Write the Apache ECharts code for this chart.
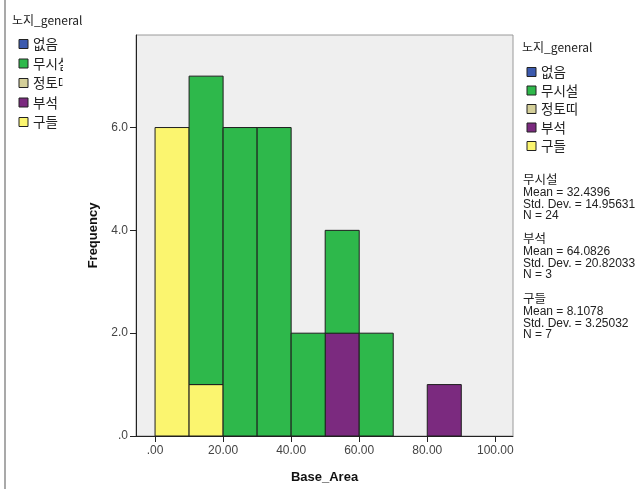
<!DOCTYPE html>
<html>
<head>
<meta charset="utf-8">
<script src="https://cdn.jsdelivr.net/npm/echarts@6/dist/echarts.min.js"></script>
<style>
  html, body { margin: 0; padding: 0; background: #ffffff; }
  #chart { width: 642px; height: 489px; }
</style>
</head>
<body>
<div id="chart"></div>
<script>
// Histogram of Base_Area, stacked by 노지_general (bin width 10)
const binStarts = [0, 10, 20, 30, 40, 50, 60, 70, 80, 90];
const binWidth = 10;

const groupNames = ['없음', '무시설', '정토띠', '부석', '구들'];
const groupColors = ['#3c5aae', '#2eb84b', '#d4cf99', '#7b2a7f', '#fbf56f'];

// counts per bin for each group
const countsNone    = [0, 0, 0, 0, 0, 0, 0, 0, 0, 0];
const countsMusiseol = [0, 6, 6, 6, 2, 2, 2, 0, 0, 0];
const countsJeongto = [0, 0, 0, 0, 0, 0, 0, 0, 0, 0];
const countsBuseok  = [0, 0, 0, 0, 0, 2, 0, 0, 1, 0];
const countsGudeul  = [6, 1, 0, 0, 0, 0, 0, 0, 0, 0];

// stacking order from the bottom up
const stackOrder = [
  { name: '구들', counts: countsGudeul },
  { name: '부석', counts: countsBuseok },
  { name: '정토띠', counts: countsJeongto },
  { name: '없음', counts: countsNone },
  { name: '무시설', counts: countsMusiseol }
];

const xTickValues = [0, 20, 40, 60, 80, 100];
const xTickLabels = ['.00', '20.00', '40.00', '60.00', '80.00', '100.00'];
const yTickValues = [0, 2, 4, 6];
const yTickLabels = ['.0', '2.0', '4.0', '6.0'];

// summary statistics shown beside the legend
const statGroups = ['무시설', '부석', '구들'];
const statMeans = ['32.4396', '64.0826', '8.1078'];
const statStdDevs = ['14.95631', '20.82033', '3.25032'];
const statNs = [24, 3, 7];

const colorOf = name => groupColors[groupNames.indexOf(name)];

// build stacked rectangles: [x0, x1, base, top]
const runningBase = binStarts.map(() => 0);
const seriesList = [];
stackOrder.forEach(g => {
  const data = [];
  binStarts.forEach((b, i) => {
    const c = g.counts[i];
    if (c > 0) {
      data.push([b, b + binWidth, runningBase[i], runningBase[i] + c]);
      runningBase[i] += c;
    }
  });
  seriesList.push({
    type: 'custom',
    name: g.name,
    data: data,
    encode: { x: [0, 1], y: [2, 3] },
    itemStyle: { color: colorOf(g.name), borderColor: '#1e1e1e', borderWidth: 1 },
    renderItem: function (params, api) {
      const p0 = api.coord([api.value(0), api.value(2)]);
      const p1 = api.coord([api.value(1), api.value(3)]);
      return {
        type: 'rect',
        shape: { x: p0[0], y: p1[1], width: p1[0] - p0[0], height: p0[1] - p1[1] },
        style: { fill: colorOf(g.name), stroke: '#1e1e1e', lineWidth: 1 }
      };
    }
  });
});

const latin = '"Liberation Sans", Arial, sans-serif';
const kor = '"Noto Sans CJK KR", sans-serif';

// legend blocks (title + colour squares)
function legendBlock(x, titleX, titleY, firstY, step, sizeSq) {
  const els = [{
    type: 'text', left: titleX, top: titleY,
    style: { text: '노지_general', font: '12px ' + kor, fill: '#222' }
  }];
  groupNames.forEach((n, i) => {
    const cy = firstY + i * step;
    els.push({
      type: 'rect', shape: { x: x, y: cy - sizeSq / 2, width: sizeSq, height: sizeSq },
      style: { fill: groupColors[i], stroke: '#222', lineWidth: 1 }
    });
    els.push({
      type: 'text', x: x + sizeSq + 5, y: cy,
      style: { text: n, font: '13.5px ' + kor, fill: '#222', verticalAlign: 'middle' }
    });
  });
  return els;
}

const graphics = [];
graphics.push(...legendBlock(527, 522, 41, 72, 18.5, 9));
graphics.push(...legendBlock(19, 12, 14, 44, 19.5, 9));
// left legend is cut off at its panel edge
graphics.push({ type: 'rect', z: 100, shape: { x: 63, y: 30, width: 30, height: 105 }, style: { fill: '#ffffff' } });
// panel border line on the far left
graphics.push({ type: 'line', shape: { x1: 5, y1: 0, x2: 5, y2: 489 }, style: { stroke: '#8c8c8c', lineWidth: 1.5 } });

// statistics text
const statTops = [173, 232, 292];
statGroups.forEach((g, i) => {
  graphics.push({
    type: 'text', left: 523, top: statTops[i],
    style: { text: g, font: '12.5px ' + kor, fill: '#222' }
  });
  graphics.push({
    type: 'text', left: 523, top: statTops[i] + 14,
    style: {
      text: 'Mean = ' + statMeans[i] + '\nStd. Dev. = ' + statStdDevs[i] + '\nN = ' + statNs[i],
      font: '12px ' + latin, fill: '#222', lineHeight: 11.5
    }
  });
});

const chart = echarts.init(document.getElementById('chart'), null, { renderer: 'canvas' });
chart.setOption({
  animation: false,
  backgroundColor: '#ffffff',
  grid: {
    left: 136, right: 129, top: 35, bottom: 51,
    show: true, backgroundColor: '#efefef', borderColor: '#9a9a9a', borderWidth: 1
  },
  xAxis: {
    type: 'value', min: -5.6, max: 105.2,
    name: 'Base_Area', nameLocation: 'middle', nameGap: 35,
    nameTextStyle: { fontFamily: latin, fontSize: 13, fontWeight: 'bold', color: '#111' },
    axisLine: { show: true, onZero: false, lineStyle: { color: '#222', width: 1 } },
    axisTick: { show: true, length: 6, customValues: xTickValues, lineStyle: { color: '#222' } },
    axisLabel: {
      customValues: xTickValues, margin: 9,
      fontFamily: latin, fontSize: 12, color: '#444',
      formatter: v => xTickLabels[xTickValues.indexOf(v)]
    },
    splitLine: { show: false }
  },
  yAxis: {
    type: 'value', min: 0, max: 7.8,
    name: 'Frequency', nameLocation: 'middle', nameGap: 35,
    nameTextStyle: { fontFamily: latin, fontSize: 13, fontWeight: 'bold', color: '#111' },
    axisLine: { show: true, onZero: false, lineStyle: { color: '#222', width: 1 } },
    axisTick: { show: true, length: 6, customValues: yTickValues, lineStyle: { color: '#222' } },
    axisLabel: {
      customValues: yTickValues, margin: 8,
      fontFamily: latin, fontSize: 12, color: '#444',
      formatter: v => yTickLabels[yTickValues.indexOf(v)]
    },
    splitLine: { show: false }
  },
  series: seriesList,
  graphic: graphics
});
</script>
</body>
</html>
